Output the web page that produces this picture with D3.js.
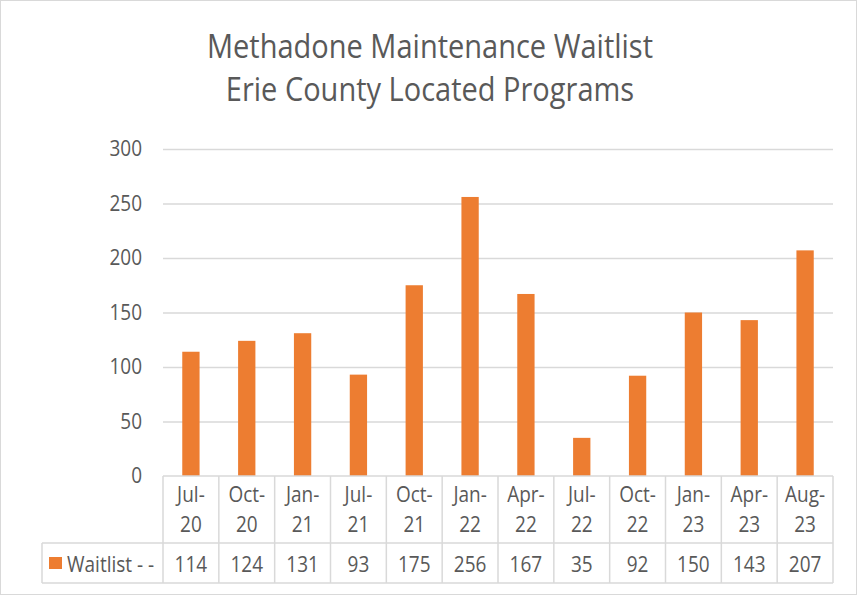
<!DOCTYPE html>
<html>
<head>
<meta charset="utf-8">
<script src="https://cdn.jsdelivr.net/npm/d3@7"></script>
<style>
  body { margin: 0; background: #fff; }
  text { font-family: "Open Sans", "Noto Sans", sans-serif; fill: #595959; }
</style>
</head>
<body>
<div id="chart"></div>
<script>
var categories = ["Jul-20", "Oct-20", "Jan-21", "Jul-21", "Oct-21", "Jan-22",
                  "Apr-22", "Jul-22", "Oct-22", "Jan-23", "Apr-23", "Aug-23"];
var waitlist = [114, 124, 131, 93, 175, 256, 167, 35, 92, 150, 143, 207];
var yTicks = [0, 50, 100, 150, 200, 250, 300];
var seriesName = "Waitlist - -";
var titleLines = ["Methadone Maintenance Waitlist", "Erie County Located Programs"];

var width = 861, height = 597;
var plot = { left: 163, right: 833, top: 149, bottom: 476 };
var tableRows = { catBottom: 543, valBottom: 583, left: 42 };
var stretch = 1.15; // the original text is a bit taller than it is wide

var svg = d3.select("#chart").append("svg")
    .attr("width", width)
    .attr("height", height);

// place a text at (x, y) with a small vertical stretch
function placeText(sel, fx, fy) {
    sel.attr("transform", function(d, i) {
        return "translate(" + fx(d, i) + "," + fy(d, i) + ") scale(1," + stretch + ")";
    });
}

// outer chart border
svg.append("rect")
    .attr("x", 0.5).attr("y", 0.5)
    .attr("width", 856).attr("height", 594)
    .attr("fill", "#fff")
    .attr("stroke", "#d9d9d9");

// title
svg.append("g")
    .selectAll("text")
    .data(titleLines)
    .enter()
    .append("text")
    .attr("text-anchor", "middle")
    .style("font-size", "29px")
    .call(placeText, function() { return 430; }, function(d, i) { return 58 + i * 43; })
    .text(function(d) { return d; });

var x = d3.scaleBand()
    .domain(categories)
    .range([plot.left, plot.right])
    .paddingInner(0.69)
    .paddingOuter(0.345);

var xCells = d3.scaleBand()
    .domain(categories)
    .range([plot.left, plot.right]);

var y = d3.scaleLinear()
    .domain([0, 300])
    .range([plot.bottom, plot.top]);

// gridlines
svg.append("g")
    .attr("class", "grid")
    .attr("transform", "translate(" + plot.left + ",0)")
    .call(d3.axisLeft(y)
        .tickValues(yTicks.slice(1))
        .tickSize(-(plot.right - plot.left))
        .tickFormat(""))
    .call(function(g) { g.select(".domain").remove(); })
    .selectAll("line")
    .attr("stroke", "#d9d9d9")
    .attr("stroke-width", 1.5);

// y axis labels
svg.append("g")
    .attr("transform", "translate(142,0)")
    .call(d3.axisLeft(y).tickValues(yTicks).tickSize(0).tickPadding(0))
    .call(function(g) { g.select(".domain").remove(); })
    .selectAll("text")
    .attr("transform", "scale(1," + stretch + ")")
    .attr("dy", "0.3em")
    .style("font-size", "19px")
    .style("fill", "#595959")
    .style("font-family", "'Open Sans', sans-serif");

// bars
svg.append("g")
    .selectAll("rect")
    .data(waitlist)
    .enter()
    .append("rect")
    .attr("x", function(d, i) { return x(categories[i]); })
    .attr("y", function(d) { return y(d); })
    .attr("width", x.bandwidth())
    .attr("height", function(d) { return y(0) - y(d); })
    .attr("fill", "#ED7D31");

// data table lines
var table = svg.append("g").attr("stroke", "#d9d9d9").attr("stroke-width", 1.5);
table.append("line")
    .attr("x1", plot.left).attr("x2", plot.right)
    .attr("y1", plot.bottom).attr("y2", plot.bottom);
table.append("line")
    .attr("x1", tableRows.left).attr("x2", plot.right)
    .attr("y1", tableRows.catBottom).attr("y2", tableRows.catBottom);
table.append("line")
    .attr("x1", tableRows.left).attr("x2", plot.right)
    .attr("y1", tableRows.valBottom).attr("y2", tableRows.valBottom);
table.append("line")
    .attr("x1", tableRows.left).attr("x2", tableRows.left)
    .attr("y1", tableRows.catBottom).attr("y2", tableRows.valBottom);
table.selectAll(".sep")
    .data(categories.concat(["end"]))
    .enter()
    .append("line")
    .attr("class", "sep")
    .attr("x1", function(d, i) { return i < categories.length ? xCells(d) : plot.right; })
    .attr("x2", function(d, i) { return i < categories.length ? xCells(d) : plot.right; })
    .attr("y1", plot.bottom)
    .attr("y2", tableRows.valBottom);

function cellMid(d) { return xCells(d) + xCells.bandwidth() / 2; }

// category labels, two lines each
svg.append("g")
    .selectAll("text")
    .data(categories)
    .enter()
    .append("text")
    .attr("text-anchor", "middle")
    .style("font-size", "19px")
    .call(placeText, cellMid, function() { return 502; })
    .text(function(d) { return d.split("-")[0] + "-"; });
svg.append("g")
    .selectAll("text")
    .data(categories)
    .enter()
    .append("text")
    .attr("text-anchor", "middle")
    .style("font-size", "19px")
    .call(placeText, cellMid, function() { return 532; })
    .text(function(d) { return d.split("-")[1]; });

// values row
svg.append("g")
    .selectAll("text")
    .data(waitlist)
    .enter()
    .append("text")
    .attr("text-anchor", "middle")
    .style("font-size", "19px")
    .call(placeText, function(d, i) { return cellMid(categories[i]); }, function() { return 572; })
    .text(function(d) { return d; });

// legend key in table
svg.append("rect")
    .attr("x", 49).attr("y", 557)
    .attr("width", 13).attr("height", 12)
    .attr("fill", "#ED7D31");
svg.append("text")
    .style("font-size", "19px")
    .call(placeText, function() { return 67; }, function() { return 572; })
    .text(seriesName);
</script>
</body>
</html>
